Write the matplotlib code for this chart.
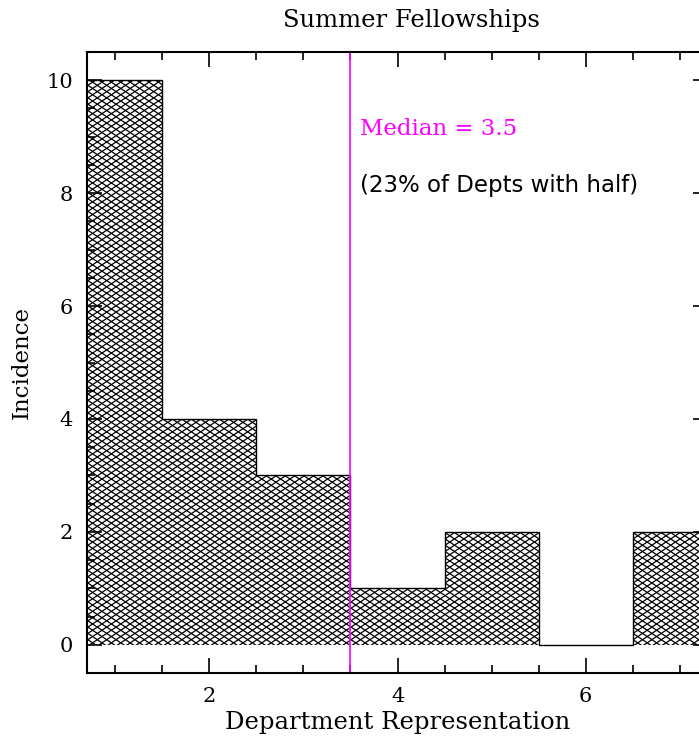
import numpy as np
import matplotlib.pyplot as plt
from matplotlib.ticker import MultipleLocator
from matplotlib.collections import LineCollection

# Histogram data (bin edges and counts)
bin_edges = [0.5, 1.5, 2.5, 3.5, 4.5, 5.5, 6.5, 7.5]
counts = [10, 4, 3, 1, 2, 0, 2]
median = 3.5

W, H = 699, 740
fig = plt.figure(figsize=(W / 100, H / 100), dpi=100)
ax = fig.add_axes([87/W, 1 - 673/H, (708 - 87)/W, (673 - 52)/H])

# invisible fill used as clip region for the cross-hatch
fill = ax.stairs(counts, bin_edges, fill=True, facecolor='white', linewidth=0)

# flattened diamond cross-hatch (lines drawn in axes coords, sized in pixels)
ax_w, ax_h = 621.0, 621.0
cw, ch = 9.4, 6.3  # cell width / height in pixels
run = ax_h * cw / ch
segs = []
for k in np.arange(-3 * ax_w, 3 * ax_w, cw):
    segs.append([(k / ax_w, 0), ((k + run) / ax_w, 1)])
    segs.append([(k / ax_w, 1), ((k + run) / ax_w, 0)])
hatch = LineCollection(segs, colors='black', linewidths=0.9,
                       transform=ax.transAxes)
ax.add_collection(hatch)
hatch.set_clip_path(fill)

ax.stairs(counts, bin_edges, baseline=0, color='black', linewidth=1.0)
ax.axvline(median, color='magenta', linewidth=1.2)

ax.text(3.6, 9.13, 'Median = 3.5', color='magenta', fontsize=16.5,
        family='DejaVu Serif', va='center')
ax.text(3.6, 8.14, '(23% of Depts with half)', color='black', fontsize=16.5,
        family='DejaVu Sans', va='center')

ax.set_xlim(0.7, 7.3)
ax.set_ylim(-0.5, 10.5)
ax.xaxis.set_major_locator(MultipleLocator(2))
ax.xaxis.set_minor_locator(MultipleLocator(0.5))
ax.yaxis.set_major_locator(MultipleLocator(2))
ax.yaxis.set_minor_locator(MultipleLocator(0.5))
ax.tick_params(which='both', direction='in', top=True, right=True, width=1.2)
ax.tick_params(which='major', length=11, labelsize=15, pad=10)
ax.tick_params(which='minor', length=6)
for lab in ax.get_xticklabels() + ax.get_yticklabels():
    lab.set_family('DejaVu Serif')
for s in ax.spines.values():
    s.set_linewidth(1.5)

ax.set_xlabel('Department Representation', fontsize=17.5, family='DejaVu Serif', labelpad=4)
ax.set_ylabel('Incidence', fontsize=16.5, family='DejaVu Serif', labelpad=10)
fig.text(411/W, 1 - 20/H, 'Summer Fellowships', fontsize=17.5,
         family='DejaVu Serif', ha='center', va='center')

fig.savefig('out.png', dpi=100)
